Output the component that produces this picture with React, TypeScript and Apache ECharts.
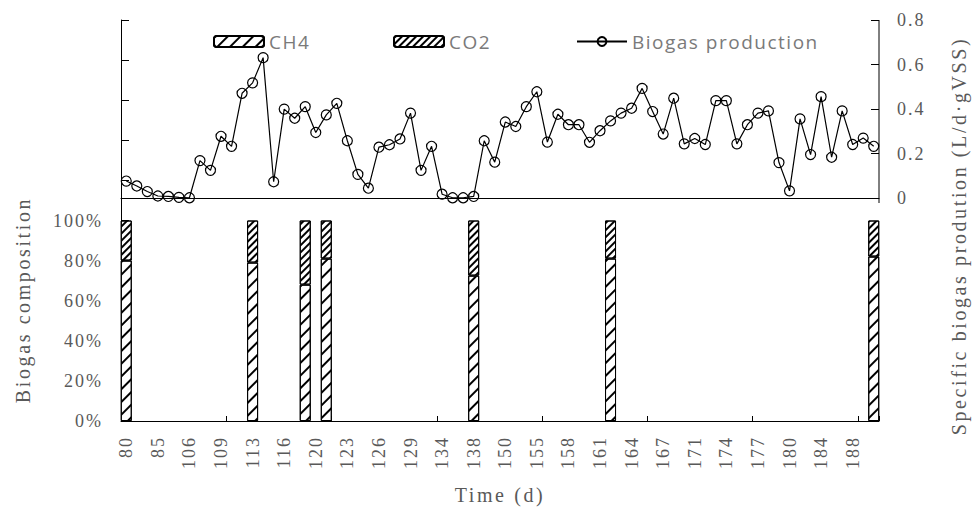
import React, { useEffect, useRef } from 'react';
import * as echarts from 'echarts';

// Time (d) categories: every 3rd one is labelled on the axis
const days = [
  '80', '81', '83', '85', '92', '99', '106', '107', '108', '109', '110', '112',
  '113', '114', '115', '116', '117', '119', '120', '121', '122', '123', '124', '125',
  '126', '127', '128', '129', '130', '132', '134', '135', '137', '138', '142', '146',
  '150', '152', '153', '155', '156', '157', '158', '159', '160', '161', '162', '163',
  '164', '165', '166', '167', '169', '170', '171', '172', '173', '174', '175', '176',
  '177', '178', '179', '180', '182', '183', '184', '185', '187', '188', '189', '190',
];

// Specific biogas production (L/d·gVSS)
const biogas = [
  0.077, 0.055, 0.030, 0.010, 0.008, 0.004, 0.002, 0.169, 0.125, 0.278, 0.233, 0.471,
  0.518, 0.631, 0.074, 0.400, 0.359, 0.411, 0.295, 0.374, 0.426, 0.258, 0.107, 0.045,
  0.229, 0.240, 0.266, 0.382, 0.125, 0.233, 0.018, 0.002, 0.002, 0.008, 0.258, 0.162,
  0.342, 0.322, 0.411, 0.478, 0.252, 0.377, 0.330, 0.330, 0.251, 0.303, 0.347, 0.382,
  0.404, 0.493, 0.389, 0.288, 0.449, 0.244, 0.268, 0.241, 0.438, 0.438, 0.244, 0.330,
  0.382, 0.392, 0.160, 0.033, 0.356, 0.196, 0.456, 0.184, 0.392, 0.241, 0.270, 0.233,
];

// Biogas composition measurements
const compDays = ['80', '113', '119', '121', '138', '162', '190'];
const ch4Share = [0.80, 0.79, 0.68, 0.81, 0.725, 0.81, 0.82];
const co2Share = [0.20, 0.21, 0.32, 0.19, 0.275, 0.19, 0.18];

const leftLabelMax = 1.0; // labels 0%..100%
const rightTickValues = [0, 0.2, 0.4, 0.6, 0.8];

const legendNames = ['CH4', 'CO2', 'Biogas production'];
const legendLefts = [213, 393, 576];
const leftName = 'Biogas composition';
const rightName = 'Specific biogas prodution (L/d·gVSS)';
const xName = 'Time (d)';

const SERIF = "'Liberation Serif', 'Times New Roman', serif";
const SANS = "'Open Sans', 'Noto Sans', sans-serif";
const GREY = '#595959';

export default function App() {
  const ref = useRef<HTMLDivElement>(null);

  useEffect(() => {
    if (!ref.current) return;
    const chart = echarts.init(ref.current, null, { renderer: 'svg' });

    const applySpacing = () => {
      const root = ref.current;
      if (!root) return;
      root.querySelectorAll('text').forEach((t) => {
        const s = t.textContent || '';
        let ls = '2px';
        if (s === xName || s === leftName || s === rightName) ls = '2.6px';
        else if (legendNames.includes(s)) ls = '1.5px';
        (t as SVGTextElement).style.letterSpacing = ls;
      });
    };

    const option: any = {
      animation: false,
      grid: { left: 121, right: 97, top: 20, bottom: 89, outerBoundsMode: 'none', containLabel: false },
      legend: legendNames.map((n, i) => ({
        data: [n],
        left: legendLefts[i],
        top: 32,
        padding: 0,
        itemWidth: 50,
        itemHeight: 11,
        textStyle: { fontFamily: SANS, fontSize: 19, color: '#7a7a7a' },
        selectedMode: false,
      })),
      xAxis: [
        {
          type: 'category',
          data: days,
          boundaryGap: true,
          axisLine: { show: true, lineStyle: { color: '#000', width: 1 } },
          axisTick: { show: true, inside: true, interval: 9, length: 5, lineStyle: { color: '#000' } },
          axisLabel: {
            interval: 2,
            rotate: 90,
            margin: 15,
            fontFamily: SERIF,
            fontSize: 18,
            color: GREY,
          },
          name: xName,
          nameLocation: 'middle',
          nameGap: 64,
          nameMoveOverlap: false,
          nameTextStyle: { fontFamily: SERIF, fontSize: 20, color: GREY },
        },
        {
          type: 'category',
          data: days,
          position: 'top',
          axisLine: { show: true, lineStyle: { color: '#000', width: 1 } },
          axisTick: { show: false },
          axisLabel: { show: false },
        },
      ],
      yAxis: [
        {
          type: 'value',
          min: 0,
          max: 2,
          interval: 0.2,
          position: 'left',
          splitLine: { show: false },
          axisLine: { show: true, lineStyle: { color: '#000', width: 1 } },
          axisTick: { show: true, inside: true, length: 8, lineStyle: { color: '#000' } },
          axisLabel: {
            margin: 18,
            fontFamily: SERIF,
            fontSize: 18,
            color: GREY,
            formatter: (v: number) => (v <= leftLabelMax + 1e-9 ? Math.round(v * 100) + '%' : ''),
          },
        },
        {
          type: 'value',
          min: -1,
          max: 0.8,
          interval: 0.2,
          position: 'right',
          splitLine: { show: false },
          axisLine: { show: false },
          axisTick: {
            show: true,
            inside: true,
            length: 8,
            customValues: rightTickValues,
            lineStyle: { color: '#000' },
          },
          axisLabel: {
            margin: 18,
            fontFamily: SERIF,
            fontSize: 18,
            color: GREY,
            customValues: rightTickValues,
            formatter: (v: number) => (v < -1e-9 ? '' : String(Math.round(v * 10) / 10)),
          },
        },
      ],
      graphic: [
        {
          type: 'line',
          shape: { x1: 879, y1: 20, x2: 879, y2: 203 },
          style: { stroke: '#000', lineWidth: 1 },
          silent: true,
        },
        {
          type: 'text',
          x: 23,
          y: 300,
          rotation: Math.PI / 2,
          style: {
            text: leftName,
            font: `20px ${SERIF}`,
            fill: GREY,
            textAlign: 'center',
            textVerticalAlign: 'middle',
          },
          silent: true,
        },
        {
          type: 'text',
          x: 959,
          y: 236,
          rotation: Math.PI / 2,
          style: {
            text: rightName,
            font: `20px ${SERIF}`,
            fill: GREY,
            textAlign: 'center',
            textVerticalAlign: 'middle',
          },
          silent: true,
        },
      ],
      series: [
        {
          name: 'CH4',
          type: 'bar',
          stack: 'comp',
          yAxisIndex: 0,
          barWidth: 11,
          data: compDays.map((d, i) => [d, ch4Share[i]]),
          itemStyle: {
            color: '#fff',
            borderColor: '#000',
            borderWidth: 1,
            decal: {
              symbol: 'rect',
              symbolSize: 1,
              dashArrayX: [1, 0],
              dashArrayY: [1.3, 7],
              rotation: -Math.PI / 4,
              color: '#000',
              backgroundColor: '#fff',
            },
          },
          emphasis: { disabled: true },
        },
        {
          name: 'CO2',
          type: 'bar',
          stack: 'comp',
          yAxisIndex: 0,
          barWidth: 11,
          data: compDays.map((d, i) => [d, co2Share[i]]),
          itemStyle: {
            color: '#fff',
            borderColor: '#000',
            borderWidth: 1,
            decal: {
              symbol: 'rect',
              symbolSize: 1,
              dashArrayX: [1, 0],
              dashArrayY: [1.2, 2.3],
              rotation: -Math.PI / 4,
              color: '#000',
              backgroundColor: '#fff',
            },
          },
          emphasis: { disabled: true },
        },
        {
          name: 'Biogas production',
          type: 'line',
          yAxisIndex: 1,
          data: biogas,
          symbol: 'circle',
          symbolSize: 10,
          showAllSymbol: true,
          lineStyle: { color: '#000', width: 1.2 },
          itemStyle: { color: 'rgba(255,255,255,0)', borderColor: '#000', borderWidth: 1.2 },
          emphasis: { disabled: true },
          z: 5,
        },
      ],
    };

    chart.setOption(option);
    applySpacing();
    chart.on('finished', applySpacing);
    const raf = requestAnimationFrame(applySpacing);

    return () => {
      cancelAnimationFrame(raf);
      chart.dispose();
    };
  }, []);

  return (
    <div
      ref={ref}
      style={{ position: 'fixed', left: 0, top: 0, width: 976, height: 510, background: '#fff' }}
    />
  );
}
